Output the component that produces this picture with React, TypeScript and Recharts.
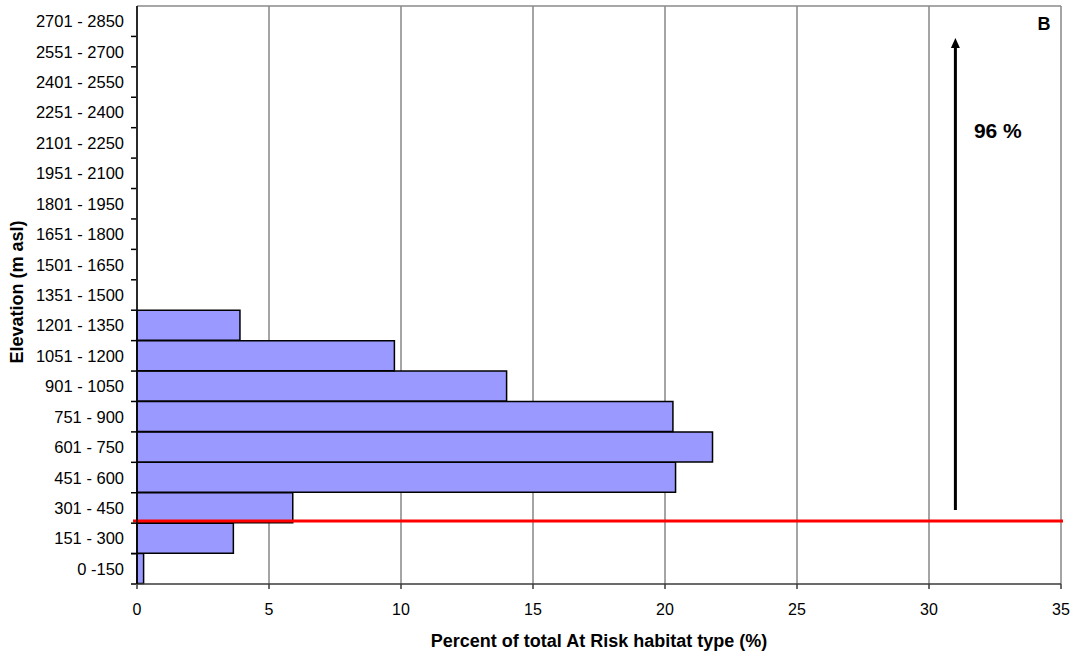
import React from 'react';
import {
  BarChart,
  Bar,
  XAxis,
  YAxis,
  CartesianGrid,
  ReferenceLine,
  ReferenceDot,
  Label,
} from 'recharts';

// elevation bands, listed bottom-up
const elevationBands = [
  '0 -150',
  '151 - 300',
  '301 - 450',
  '451 - 600',
  '601 - 750',
  '751 - 900',
  '901 - 1050',
  '1051 - 1200',
  '1201 - 1350',
  '1351 - 1500',
  '1501 - 1650',
  '1651 - 1800',
  '1801 - 1950',
  '1951 - 2100',
  '2101 - 2250',
  '2251 - 2400',
  '2401 - 2550',
  '2551 - 2700',
  '2701 - 2850',
];

// percent of total At Risk habitat per band
const atRiskPercent = [
  0.25, 3.65, 5.9, 20.4, 21.8, 20.3, 14.0, 9.75, 3.9,
  null, null, null, null, null, null, null, null, null, null,
];

const percentTicks = [0, 5, 10, 15, 20, 25, 30, 35];

// threshold between bands and the share above it (in band units from the bottom)
const thresholdBand = 2.07;
const arrowFrom = 2.43;
const arrowTo = 17.95;
const arrowX = 31;
const shareLabel = '96 %';
const panelLabel = 'B';

// row = band centre measured in band units, used by the overlay axis
const data = elevationBands.map((band, i) => ({ band, pct: atRiskPercent[i], row: i + 0.5 }));

const FONT = '"Liberation Sans", Arial, sans-serif';

const Arrow = (p: any) => {
  const top = Math.min(p.y1, p.y2);
  const bottom = Math.max(p.y1, p.y2);
  return (
    <g>
      <line x1={p.x1} y1={bottom} x2={p.x2} y2={top + 8} stroke="#000" strokeWidth={3} />
      <polygon
        points={`${p.x2},${top} ${p.x2 - 4.5},${top + 10} ${p.x2 + 4.5},${top + 10}`}
        fill="#000"
      />
    </g>
  );
};

// band label centred in its row, with tick marks on the band edges
const BandTick = (props: any) => {
  const { x, y, payload, index } = props;
  const half = payload?.offset || 578 / 38;
  return (
    <g>
      <line x1={x + 1} y1={y + half} x2={x + 6} y2={y + half} stroke="#000" strokeWidth={1.5} />
      {index === 0 && (
        <line x1={x + 1} y1={y - half} x2={x + 6} y2={y - half} stroke="#000" strokeWidth={1.5} />
      )}
      <text
        x={x - 6}
        y={y}
        textAnchor="end"
        dominantBaseline="central"
        fill="#000"
        style={{ fontSize: 16.5, fontFamily: FONT }}
      >
        {payload.value}
      </text>
    </g>
  );
};

export default function App() {
  return (
    <div style={{ position: 'absolute', left: 0, top: 0, background: '#fff' }}>
      <BarChart
        width={1076}
        height={651}
        data={data}
        layout="vertical"
        barCategoryGap={0}
        margin={{ top: 6, right: 15, left: 0, bottom: 0 }}
        style={{ fontFamily: FONT }}
      >
        <CartesianGrid horizontal={false} stroke="#4a4a4a" strokeWidth={1} />
        <XAxis
          type="number"
          domain={[0, 35]}
          ticks={percentTicks}
          height={67}
          tickSize={5}
          tickMargin={15}
          stroke="#3a3a3a"
          strokeWidth={1.5}
          tick={{ fill: '#000', fontSize: 16 }}
        >
          <Label
            value="Percent of total At Risk habitat type (%)"
            position="insideBottom"
            offset={4}
            style={{ fontWeight: 'bold', fontSize: 18, fill: '#000' }}
          />
        </XAxis>
        <YAxis
          type="category"
          dataKey="band"
          reversed
          width={137}
          interval={0}
          tickLine={false}
          tickSize={0}
          tickMargin={7}
          stroke="#000"
          strokeWidth={1.5}
          tick={<BandTick />}
        >
          <Label
            content={(props: any) => {
              const vb = props.viewBox;
              const cx = vb.x + 17;
              const cy = vb.y + vb.height / 2 - 3;
              return (
                <text
                  x={cx}
                  y={cy}
                  transform={`rotate(-90 ${cx} ${cy})`}
                  textAnchor="middle"
                  dominantBaseline="central"
                  style={{ fontWeight: 'bold', fontSize: 18, fill: '#000', fontFamily: FONT }}
                >
                  Elevation (m asl)
                </text>
              );
            }}
          />
        </YAxis>
        <YAxis
          yAxisId="pos"
          dataKey="row"
          type="number"
          domain={[0, elevationBands.length]}
          allowDataOverflow
          reversed
          hide
        />
        <ReferenceLine yAxisId="pos" y={elevationBands.length} stroke="#8a8a8a" strokeWidth={1.5} />
        <Bar
          dataKey="pct"
          fill="#9999ff"
          stroke="#000"
          strokeWidth={1.5}
          isAnimationActive={false}
        />
        <ReferenceLine
          yAxisId="pos"
          y={thresholdBand}
          shape={(p: any) => (
            <line x1={p.x1 - 4} y1={p.y1} x2={p.x2 + 2} y2={p.y2} stroke="#ff0000" strokeWidth={3} />
          )}
        />
        <ReferenceLine
          yAxisId="pos"
          segment={[
            { x: arrowX, y: arrowFrom },
            { x: arrowX, y: arrowTo },
          ]}
          shape={Arrow}
        />
        <ReferenceDot
          yAxisId="pos"
          x={31.7}
          y={14.9}
          r={0}
          shape={(p: any) => (
            <text
              x={p.cx}
              y={p.cy}
              dominantBaseline="central"
              style={{ fontWeight: 'bold', fontSize: 21, fill: '#000', fontFamily: FONT }}
            >
              {shareLabel}
            </text>
          )}
        />
        <ReferenceDot
          yAxisId="pos"
          x={34.6}
          y={18.4}
          r={0}
          shape={(p: any) => (
            <text
              x={p.cx}
              y={p.cy}
              textAnchor="end"
              dominantBaseline="central"
              style={{ fontWeight: 'bold', fontSize: 18, fill: '#000', fontFamily: FONT }}
            >
              {panelLabel}
            </text>
          )}
        />
      </BarChart>
    </div>
  );
}
